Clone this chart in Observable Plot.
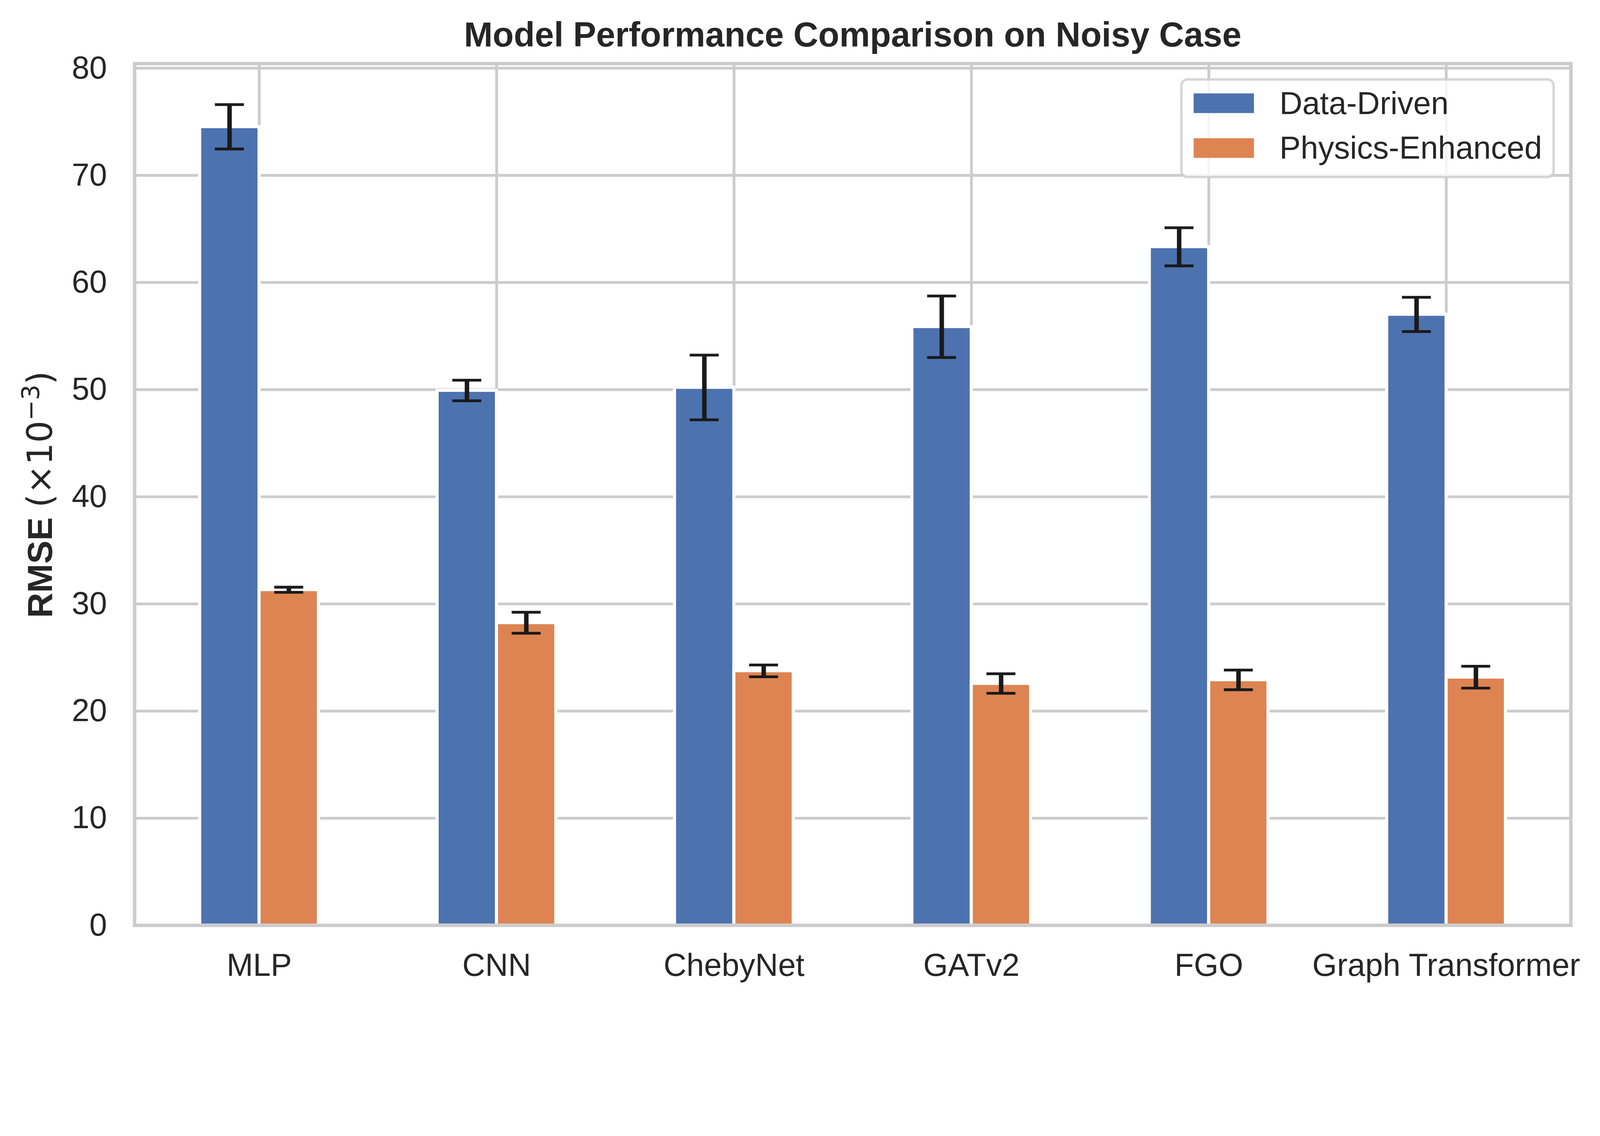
<!DOCTYPE html>
<html>
<head>
<meta charset="utf-8">
<script src="https://cdn.jsdelivr.net/npm/d3@7"></script>
<script src="https://cdn.jsdelivr.net/npm/@observablehq/plot@0.6"></script>
<style>
  html, body { margin: 0; padding: 0; background: #ffffff; overflow: hidden; }
  #chart { width: 100%; }
  #chart svg { display: block; width: 100%; height: auto; max-width: 100%; }
</style>
</head>
<body>
<div id="chart"></div>
<script>
// ---- data ----
const categories = ["MLP", "CNN", "ChebyNet", "GATv2", "FGO", "Graph Transformer"];
const series = ["Data-Driven", "Physics-Enhanced"];
const dataDriven = [74.53, 49.92, 50.20, 55.87, 63.33, 57.02];
const dataDrivenErr = [2.07, 0.96, 3.02, 2.87, 1.78, 1.60];
const physicsEnhanced = [31.32, 28.24, 23.75, 22.57, 22.91, 23.16];
const physicsEnhancedErr = [0.24, 0.98, 0.55, 0.91, 0.92, 1.02];
const yTicks = [0, 10, 20, 30, 40, 50, 60, 70, 80];
const titleText = "Model Performance Comparison on Noisy Case";
const yLabelText = "RMSE (×10⁻³)";

// ---- styling constants ----
const colors = ["#4c72b0", "#dd8452"];
const ink = "#262626";
const gridColor = "#cccccc";
const barW = 0.25;
const capHalf = 0.061;

// ---- table built from the arrays ----
const values = [dataDriven, physicsEnhanced];
const errors = [dataDrivenErr, physicsEnhancedErr];
const rows = [];
categories.forEach((c, i) => {
  series.forEach((s, k) => {
    const x1 = i + (k - 1) * barW, x2 = x1 + barW;
    const v = values[k][i], e = errors[k][i];
    rows.push({category: c, series: s, index: i, value: v, err: e,
               x1, x2, xc: (x1 + x2) / 2, lo: v - e, hi: v + e});
  });
});
const xTicks = categories.map((_, i) => i);
const xMin = -barW, xMax = categories.length - 1 + barW;
const xPad = 0.05 * (xMax - xMin);
const yMax = d3.max(rows, d => d.hi) * 1.05;

const W = 4642, H = 2908;
const mL = 390, mR = 85, mT = 184, mB = 224;

const svg = Plot.plot({
  width: W,
  height: H,
  marginLeft: mL,
  marginRight: mR,
  marginTop: mT,
  marginBottom: mB,
  style: {fontFamily: "'Liberation Sans', Arial, sans-serif", fontSize: "92px", color: ink, background: "#ffffff"},
  x: {type: "linear", domain: [xMin - xPad, xMax + xPad]},
  y: {type: "linear", domain: [0, yMax]},
  color: {domain: series, range: colors},
  marks: [
    Plot.gridY(yTicks, {stroke: gridColor, strokeOpacity: 1, strokeWidth: 8}),
    Plot.gridX(xTicks, {stroke: gridColor, strokeOpacity: 1, strokeWidth: 8}),
    Plot.rectY(rows, {x1: "x1", x2: "x2", y1: 0, y2: "value", fill: "series", stroke: "#ffffff", strokeWidth: 9}),
    Plot.ruleX(rows, {x: "xc", y1: "lo", y2: "hi", stroke: "#1a1a1a", strokeWidth: 13}),
    Plot.ruleY(rows, {y: "hi", x1: d => d.xc - capHalf, x2: d => d.xc + capHalf, stroke: "#1a1a1a", strokeWidth: 8}),
    Plot.ruleY(rows, {y: "lo", x1: d => d.xc - capHalf, x2: d => d.xc + capHalf, stroke: "#1a1a1a", strokeWidth: 8}),
    Plot.frame({stroke: gridColor, strokeWidth: 10}),
    Plot.axisY({ticks: yTicks, tickSize: 0, tickPadding: 80, label: null, fontSize: 92, fill: ink}),
    Plot.axisX({ticks: xTicks, tickFormat: i => categories[i], tickSize: 0, tickPadding: 81, label: null, fontSize: 92, fill: ink}),
    Plot.text([titleText], {text: d => d, frameAnchor: "top", textAnchor: "middle", lineAnchor: "middle",
                            dy: -82, fontSize: 100, fontWeight: "bold", fill: ink}),
    Plot.text([yLabelText], {text: d => d, frameAnchor: "left", textAnchor: "middle", lineAnchor: "middle",
                             rotate: -90, dx: -272, fontSize: 101, fontWeight: "bold", fill: ink})
  ]
});

// rich text for the y label (bold word + regular math part with superscript)
const lab = Array.from(svg.querySelectorAll("text")).find(t => t.textContent === yLabelText);
if (lab) {
  lab.textContent = "";
  const s = d3.select(lab);
  s.append("tspan").attr("font-weight", "bold").text("RMSE ");
  s.append("tspan").attr("font-family", "'DejaVu Sans', sans-serif").attr("font-weight", "normal").text("(×10");
  s.append("tspan").attr("font-family", "'DejaVu Sans', sans-serif").attr("font-weight", "normal")
    .attr("font-size", 71).attr("dy", -38).text("−3");
  s.append("tspan").attr("font-family", "'DejaVu Sans', sans-serif").attr("font-weight", "normal")
    .attr("dy", 38).text(")");
}

// legend drawn inside the plot, upper right
const frameRight = W - mR;
const lgX = frameRight - 46 - 1087, lgY = mT + 43;
const lg = d3.select(svg).append("g").attr("aria-label", "legend").attr("text-anchor", "start");
lg.append("rect")
  .attr("x", lgX + 3.5).attr("y", lgY + 3.5)
  .attr("width", 1080).attr("height", 283)
  .attr("rx", 18).attr("ry", 18)
  .attr("fill", "#ffffff").attr("fill-opacity", 0.8)
  .attr("stroke", gridColor).attr("stroke-opacity", 0.8).attr("stroke-width", 7);
series.forEach((s, k) => {
  lg.append("rect")
    .attr("x", lgX + 39).attr("y", lgY + 44 + k * 130)
    .attr("width", 175).attr("height", 57)
    .attr("fill", colors[k]);
  lg.append("text")
    .attr("x", lgX + 288).attr("y", lgY + 104 + k * 129)
    .attr("text-anchor", "start")
    .attr("font-size", 92).attr("fill", ink)
    .text(s);
});

document.getElementById("chart").appendChild(svg);
</script>
</body>
</html>
